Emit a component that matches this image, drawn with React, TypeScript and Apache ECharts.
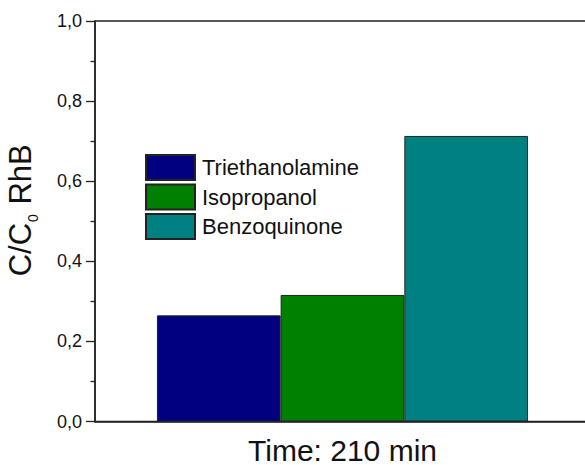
import React, { useEffect, useRef } from "react";
import * as echarts from "echarts";

const categories = ["Time: 210 min"];
const seriesNames = ["Triethanolamine", "Isopropanol", "Benzoquinone"];
const seriesValues = [[0.265], [0.316], [0.713]];
const seriesColors = ["#000080", "#008000", "#008080"];
const yTicks = [0, 0.2, 0.4, 0.6, 0.8, 1.0];

export default function App() {
  const ref = useRef<HTMLDivElement>(null);

  useEffect(() => {
    if (!ref.current) return;
    const chart = echarts.init(ref.current, null, { renderer: "svg" });
    const font = "Liberation Sans, Arial, sans-serif";
    chart.setOption({
      animation: false,
      backgroundColor: "#ffffff",
      textStyle: { fontFamily: font },
      grid: {
        left: 95,
        right: -5,
        top: 21,
        bottom: 43.5,
        outerBoundsMode: "none",
        show: true,
        borderColor: "#222",
        borderWidth: 1.5,
      },
      legend: {
        orient: "vertical",
        left: 145,
        top: 154,
        padding: 0,
        itemWidth: 49,
        itemHeight: 25,
        itemGap: 2.5,
        icon: "rect",
        data: seriesNames,
        textStyle: {
          fontSize: 22,
          color: "#111",
          fontFamily: font,
          lineHeight: 25,
          padding: [0, 0, 0, 2],
        },
      },
      xAxis: {
        type: "category",
        data: categories,
        axisLine: { show: true, lineStyle: { color: "#222", width: 1.5 } },
        axisTick: { show: false },
        axisLabel: { show: false },
        name: categories[0],
        nameLocation: "middle",
        nameGap: 15,
        nameTextStyle: {
          fontSize: 30,
          lineHeight: 27,
          color: "#111",
          fontFamily: font,
          verticalAlign: "top",
        },
      },
      yAxis: {
        type: "value",
        min: 0,
        max: 1,
        interval: 0.2,
        splitLine: { show: false },
        axisLine: { show: true, lineStyle: { color: "#222", width: 1.5 } },
        axisTick: { show: true, length: 9, lineStyle: { color: "#222", width: 1.3 } },
        minorTick: { show: true, splitNumber: 2, length: 4.5, lineStyle: { color: "#222", width: 1.3 } },
        axisLabel: {
          margin: 13,
          fontSize: 18,
          color: "#111",
          fontFamily: font,
          formatter: (v: number) => {
            const hit = yTicks.find((t) => Math.abs(t - v) < 1e-9);
            return hit === undefined ? "" : hit.toFixed(1).replace(".", ",");
          },
        },
        name: "{a|C/C}{b|0}{a| RhB}",
        nameLocation: "middle",
        nameRotate: 90,
        nameGap: 58,
        nameTextStyle: {
          padding: [0, 0, 0, 22],
          rich: {
            a: { fontSize: 31, color: "#111", fontFamily: font, lineHeight: 34, verticalAlign: "middle" },
            b: { fontSize: 14, color: "#111", fontFamily: font, lineHeight: 14, verticalAlign: "middle", padding: [26, 1, 0, 1] },
          },
        },
      },
      series: seriesNames.map((name, i) => ({
        name,
        type: "bar",
        data: seriesValues[i],
        barWidth: 123.7,
        barGap: "0%",
        itemStyle: { color: seriesColors[i], borderColor: "#222", borderWidth: 1 },
      })),
    });
    return () => chart.dispose();
  }, []);

  return (
    <div
      ref={ref}
      style={{ position: "fixed", left: 0, top: 0, width: 585, height: 465 }}
    />
  );
}
